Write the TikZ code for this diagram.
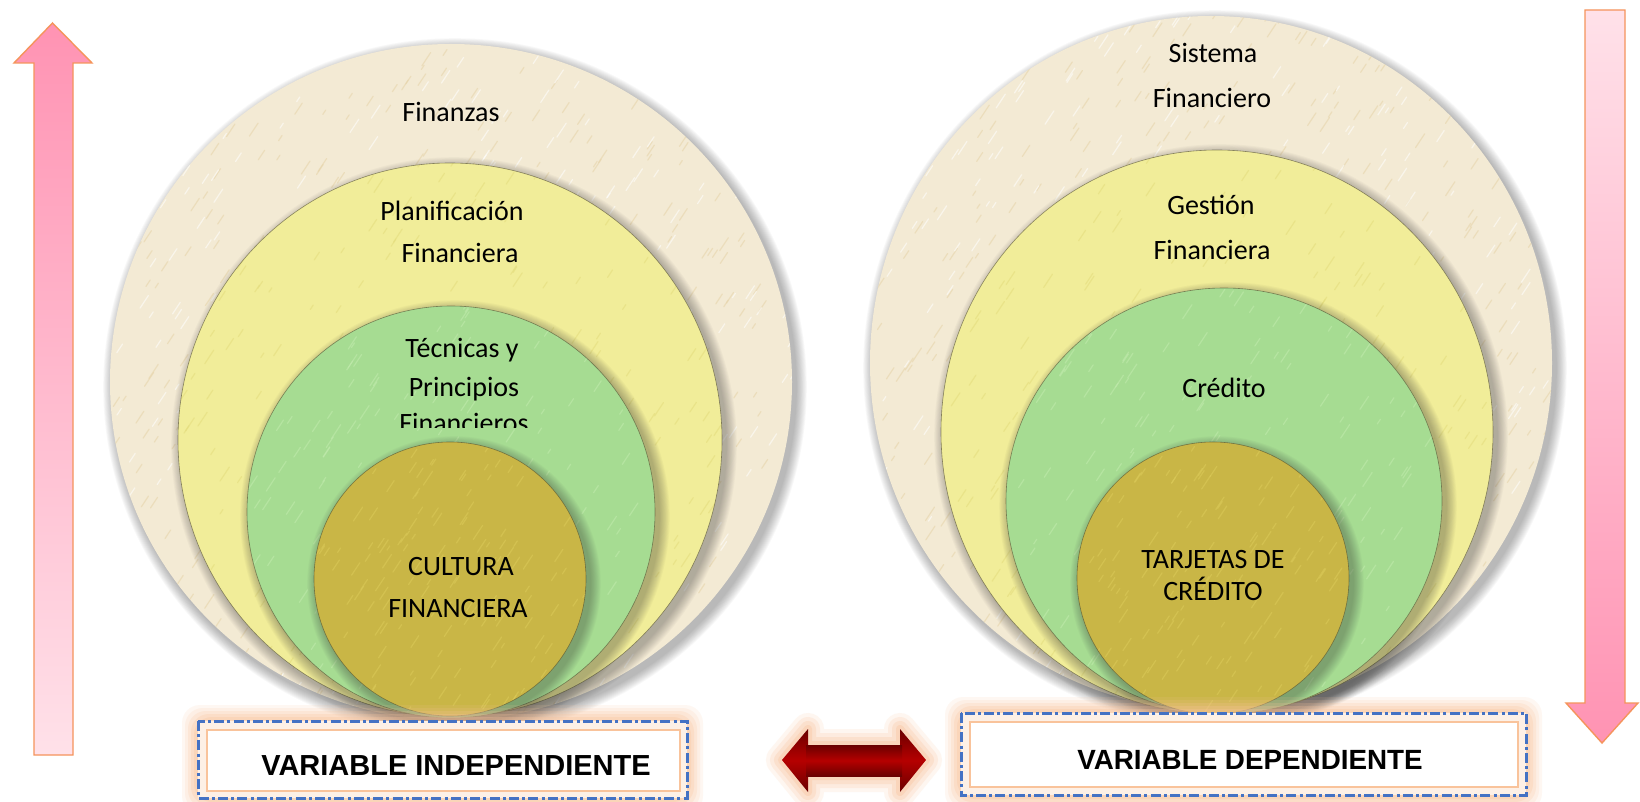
\documentclass[tikz,border=0pt]{standalone}
\usepackage{fontspec}
\setmainfont{Carlito}
\newfontfamily\arialfont{Liberation Sans}
\definecolor{beigeC}{HTML}{F3EAD4}
\definecolor{beigeS}{HTML}{E6D3A8}
\definecolor{yellowC}{HTML}{F1ED99}
\definecolor{yellowS}{HTML}{E3DC7C}
\definecolor{greenC}{HTML}{A6DC92}
\definecolor{greenS}{HTML}{C2EBAE}
\definecolor{goldC}{HTML}{C9B646}
\definecolor{goldS}{HTML}{DCCB5A}
\definecolor{pinkD}{HTML}{FF93B3}
\definecolor{pinkL}{HTML}{FFE1E9}
\definecolor{orangeB}{HTML}{F5945C}
\definecolor{blueD}{HTML}{4472C4}
\definecolor{glowC}{HTML}{F9C39B}
\definecolor{redA}{HTML}{B50000}
\definecolor{redD}{HTML}{6A0000}
\newcommand\shell[4]{%
  \foreach \k in {1,...,12}{\fill[black!80,opacity=0.032] (#1+4,#2+5) ellipse [x radius=#3+\k*0.9, y radius=#4+\k*0.9];}%
}
% texture: #1 cx, #2 cy, #3 rx, #4 ry, #5 colour, #6 count
\newcommand\texture[6]{%
  \begin{scope}
    \clip (#1,#2) ellipse [x radius=#3, y radius=#4];
    \foreach \t in {1,...,#6}{%
      \pgfmathsetmacro\px{#1-#3+rnd*2*#3}%
      \pgfmathsetmacro\py{#2-#4+rnd*2*#4}%
      \pgfmathsetmacro\ll{5+rnd*12}%
      \draw[#5, line width=0.6pt, opacity=0.55, line cap=round] (\px,\py) -- ++(\ll*0.55,-\ll*0.83);
    }%
  \end{scope}%
}
\begin{document}
\begin{tikzpicture}[x=0.5pt,y=-0.5pt,
  lbl/.style={font=\fontsize{14}{16}\selectfont, anchor=base, inner sep=0pt, text=black},
  boxlbl/.style={font=\arialfont\bfseries\fontsize{14.5}{16}\selectfont, anchor=base, inner sep=0pt, text=black},
  pinkarrow/.style={draw=orangeB, line width=0.7pt, line join=miter},
  dashbox/.style={draw=blueD, line width=1.5pt, dash pattern=on 5pt off 1.6pt on 1.5pt off 1.6pt},
  innerbox/.style={draw=glowC, line width=1pt, fill=white},
  rim/.style={draw=black!60!olive, line width=0.3pt, opacity=0.6}]
\pgfmathsetseed{7}
\useasboundingbox (0,0) rectangle (1640,802);
\fill[white] (0,0) rectangle (1640,802);

% ---------- left nest ----------
\shell{451}{382}{341}{338}
\fill[beigeC] (451,382) ellipse [x radius=341, y radius=338];
\texture{451}{382}{341}{338}{beigeS}{500}
\texture{451}{382}{341}{338}{white}{350}
\shell{450}{440}{272}{277}
\fill[yellowC] (450,440) ellipse [x radius=272, y radius=277];
\texture{450}{440}{272}{277}{yellowS}{250}
\draw[rim] (450,440) ellipse [x radius=272, y radius=277];
\shell{451}{512}{204}{206}
\fill[greenC] (451,512) ellipse [x radius=204, y radius=206];
\texture{451}{512}{204}{206}{greenS}{200}
\draw[rim] (451,512) ellipse [x radius=204, y radius=206];
\shell{450}{579}{136}{137}
\fill[goldC] (450,579) ellipse [x radius=136, y radius=137];
\texture{450}{579}{136}{137}{goldS}{150}
\draw[rim] (450,579) ellipse [x radius=136, y radius=137];

\node[lbl] (fin) at (451,122) {Finanzas};
\node[lbl] (plan1) at (452,221) {Planificación};
\node[lbl] (plan2) at (460,263) {Financiera};
\node[lbl] (tec1) at (462,358) {Técnicas y};
\node[lbl] (tec2) at (464,397) {Principios};
\begin{scope}
  \clip (300,300) rectangle (620,428);
  \node[lbl] (tec3) at (464,432) {Financieros};
\end{scope}
\node[lbl] (cul1) at (461,575) {CULTURA};
\node[lbl] (cul2) at (458,617) {FINANCIERA};

% ---------- right nest ----------
\shell{1211}{363}{341}{347}
\fill[beigeC] (1211,363) ellipse [x radius=341, y radius=347];
\texture{1211}{363}{341}{347}{beigeS}{500}
\texture{1211}{363}{341}{347}{white}{350}
\shell{1217}{432}{276}{282}
\fill[yellowC] (1217,432) ellipse [x radius=276, y radius=282];
\texture{1217}{432}{276}{282}{yellowS}{250}
\draw[rim] (1217,432) ellipse [x radius=276, y radius=282];
\shell{1224}{501}{218}{213}
\fill[greenC] (1224,501) ellipse [x radius=218, y radius=213];
\texture{1224}{501}{218}{213}{greenS}{200}
\draw[rim] (1224,501) ellipse [x radius=218, y radius=213];
\shell{1213}{578}{136}{136}
\fill[goldC] (1213,578) ellipse [x radius=136, y radius=136];
\texture{1213}{578}{136}{136}{goldS}{150}
\draw[rim] (1213,578) ellipse [x radius=136, y radius=136];

\node[lbl] (sis1) at (1213,63) {Sistema};
\node[lbl] (sis2) at (1212,108) {Financiero};
\node[lbl] (ges1) at (1211,215) {Gestión};
\node[lbl] (ges2) at (1212,260) {Financiera};
\node[lbl] (cre) at (1224,398) {Crédito};
\node[lbl] (tar1) at (1213,568) {TARJETAS DE};
\node[lbl] (tar2) at (1213,600) {CRÉDITO};

% ---------- pink arrows ----------
\path[pinkarrow, top color=pinkD, bottom color=pinkL]
  (34,755) -- (34,63) -- (14,63) -- (52.5,23) -- (92,63) -- (73,63) -- (73,755) -- cycle;
\path[pinkarrow, top color=pinkL, bottom color=pinkD]
  (1585,10) -- (1625,10) -- (1625,703) -- (1638,703) -- (1602,743) -- (1566,703) -- (1585,703) -- cycle;

% ---------- boxes ----------
\foreach \g/\o in {16/0.12,13/0.15,10/0.2,7/0.25,4/0.3}{
  \fill[glowC, opacity=\o, rounded corners=9] (198-\g,721-\g) rectangle (687+\g,798+\g);
  \fill[glowC, opacity=\o, rounded corners=9] (961-\g,713-\g) rectangle (1526+\g,795+\g);
}
\fill[white!75!glowC] (198,721) rectangle (687,798);
\fill[white!75!glowC] (961,713) rectangle (1526,795);
\draw[innerbox] (207,730) rectangle (680,791);
\draw[innerbox] (970,722) rectangle (1518,787);
\draw[dashbox] (198,721) rectangle (687,798);
\draw[dashbox] (961,713) rectangle (1526,795);
\node[boxlbl] (vi) at (456,775) {VARIABLE INDEPENDIENTE};
\node[boxlbl, font=\arialfont\bfseries\fontsize{13.9}{16}\selectfont] (vd) at (1250,769) {VARIABLE DEPENDIENTE};

% ---------- double arrow ----------
\foreach \w/\o in {16/0.15,12/0.2,8/0.25,4/0.35}{
  \draw[glowC, line width=\w pt, opacity=\o, line join=round]
    (782,760) -- (808,729) -- (808,745) -- (900,745) -- (900,729) -- (926,760) -- (900,792) -- (900,776) -- (808,776) -- (808,792) -- cycle;
}
\path[top color=redD, bottom color=redD, middle color=redA]
  (782,760) -- (808,729) -- (808,745) -- (900,745) -- (900,729) -- (926,760) -- (900,792) -- (900,776) -- (808,776) -- (808,792) -- cycle;
\path[top color=redD, bottom color=redD, middle color=redA]
  (806,745) rectangle (902,776);
\end{tikzpicture}
\end{document}
